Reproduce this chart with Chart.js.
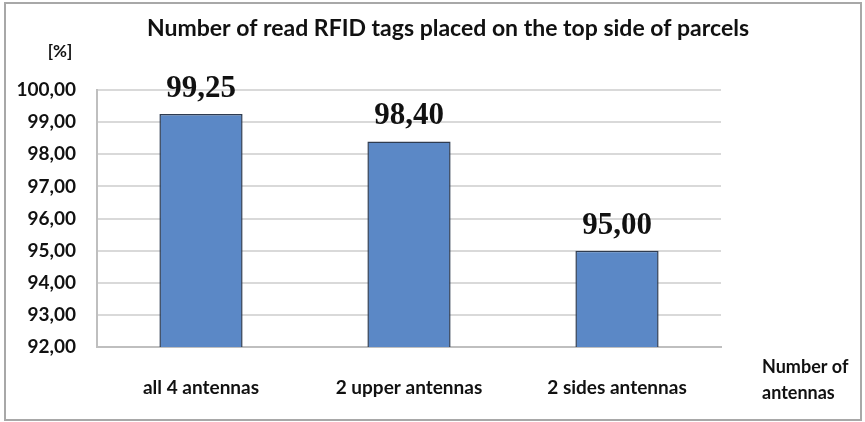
<!DOCTYPE html>
<html>
<head>
<meta charset="utf-8">
<script src="https://cdn.jsdelivr.net/npm/chart.js@4.4.0/dist/chart.umd.min.js"></script>
<style>
  body { margin: 0; background: #fff; }
  canvas { display: block; }
</style>
</head>
<body>
<canvas id="chart" width="865" height="422"></canvas>
<script>
// data
const categories = ['all 4 antennas', '2 upper antennas', '2 sides antennas'];
const readRates = [99.25, 98.40, 95.00];
const yTicks = [92, 93, 94, 95, 96, 97, 98, 99, 100];
const titleText = 'Number of read RFID tags placed on the top side of parcels';
const yUnit = '[%]';
const xAxisTitle = ['Number of', 'antennas'];

// 99.25 -> "99,25"
const fmt = v => Number(v).toFixed(2).replace('.', ',');

// gray frame around the whole figure
const framePlugin = {
  id: 'frame',
  beforeDraw(chart) {
    const ctx = chart.ctx;
    ctx.save();
    ctx.fillStyle = '#fff';
    ctx.fillRect(0, 0, chart.width, chart.height);
    ctx.strokeStyle = '#a8a8a8';
    ctx.lineWidth = 2;
    ctx.strokeRect(5, 3, chart.width - 9, chart.height - 5);
    ctx.restore();
  }
};

// big serif value labels above the bars
const valueLabels = {
  id: 'valueLabels',
  afterDatasetsDraw(chart) {
    const ctx = chart.ctx;
    const meta = chart.getDatasetMeta(0);
    ctx.save();
    ctx.font = 'bold 31px "Liberation Serif"';
    ctx.fillStyle = '#111';
    ctx.textAlign = 'center';
    ctx.textBaseline = 'alphabetic';
    meta.data.forEach((bar, i) => {
      ctx.fillText(fmt(chart.data.datasets[0].data[i]), bar.x, bar.y - 17);
    });
    ctx.restore();
  }
};

// title, unit label above the y axis and axis name on the right
const axisNotes = {
  id: 'axisNotes',
  afterDraw(chart) {
    const ctx = chart.ctx;
    const area = chart.chartArea;
    ctx.save();
    ctx.fillStyle = '#111';
    ctx.textBaseline = 'middle';
    ctx.textAlign = 'center';
    ctx.font = 'bold 23px Lato';
    ctx.fillText(titleText, 448, 29);
    ctx.font = 'bold 17px Lato';
    ctx.fillText(yUnit, 60, area.top - 38);
    ctx.font = 'bold 18px Lato';
    ctx.textAlign = 'left';
    ctx.fillText(xAxisTitle[0], area.right + 41, area.bottom + 20);
    ctx.fillText(xAxisTitle[1], area.right + 41, area.bottom + 46);
    ctx.restore();
  }
};

new Chart(document.getElementById('chart'), {
  type: 'bar',
  data: {
    labels: categories,
    datasets: [{
      data: readRates,
      backgroundColor: '#5b88c6',
      borderColor: '#2e3b50',
      borderWidth: 1.5,
      barPercentage: 0.4,
      categoryPercentage: 1.0
    }]
  },
  options: {
    responsive: false,
    animation: false,
    layout: { padding: { top: 90, left: 0, right: 144, bottom: 0 } },
    plugins: {
      legend: { display: false },
      tooltip: { enabled: false },
      title: { display: false }
    },
    scales: {
      x: {
        grid: { display: false, drawTicks: false },
        border: { display: true, color: '#bfbfbf', width: 2 },
        ticks: {
          color: '#111',
          padding: 29,
          font: { family: 'Lato', weight: 'bold', size: 19, lineHeight: 1.2 }
        },
        afterFit(scale) { scale.height = 75; }
      },
      y: {
        min: yTicks[0],
        max: yTicks[yTicks.length - 1],
        afterBuildTicks(scale) { scale.ticks = yTicks.map(v => ({ value: v })); },
        grid: { color: '#d9d9d9', lineWidth: 2, drawTicks: false },
        border: { display: true, color: '#bfbfbf', width: 2 },
        ticks: {
          color: '#111',
          padding: 21,
          font: { family: 'Lato', weight: 'bold', size: 19 },
          callback: v => fmt(v)
        },
        afterFit(scale) { scale.width = 97; }
      }
    }
  },
  plugins: [framePlugin, valueLabels, axisNotes]
});
</script>
</body>
</html>
